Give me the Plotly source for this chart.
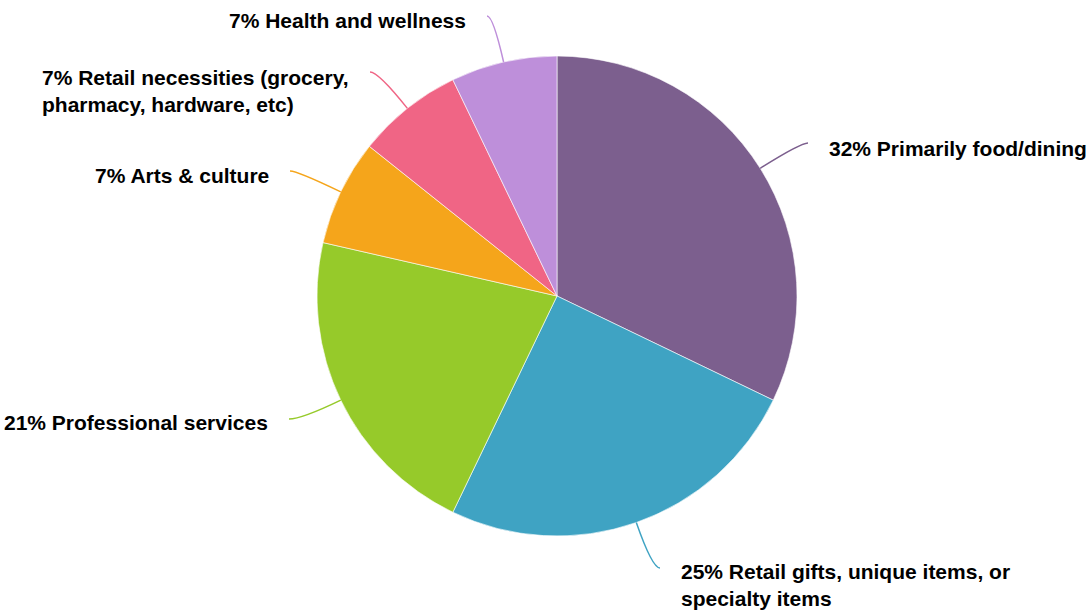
import math
import plotly.graph_objects as go

categorias = ['Primarily food/dining',
              'Retail gifts, unique items, or<br>specialty items',
              'Professional services',
              'Arts & culture',
              'Retail necessities (grocery,<br>pharmacy, hardware, etc)',
              'Health and wellness']
respostas = [9, 7, 6, 2, 2, 2]
cores = ['#7c5f8e', '#3fa3c3', '#96ca2a', '#f5a51b', '#f06585', '#be8fda']

# onde termina cada linha-guia (pixels), lado do texto e ajuste vertical
fim_linha = [(808, 143), (660, 568), (289, 419), (290, 171), (370, 72), (487, 16)]
lado = ['left', 'left', 'right', 'right', 'right', 'right']
ajuste_y = [-5, -17, -3, -4, -19, -4]

W, H = 1088, 612
cx, cy, raio = 557, 296, 240

fig = go.Figure()
fig.add_trace(go.Pie(
    labels=categorias, values=respostas, sort=False, direction='clockwise',
    marker=dict(colors=cores, line=dict(color='white', width=0.6)),
    textinfo='none', hoverinfo='label+percent', showlegend=False,
    domain=dict(x=[(cx - raio) / W, (cx + raio) / W],
                y=[(H - cy - raio) / H, (H - cy + raio) / H])))

total = sum(respostas)
acum = 0
for nome, v, cor, (ex, ey), sd, dy_txt in zip(categorias, respostas, cores, fim_linha, lado, ajuste_y):
    meio = (acum + v / 2) / total * 2 * math.pi
    acum += v
    dx, dy = math.sin(meio), -math.cos(meio)
    x0, y0 = cx + raio * dx, cy + raio * dy
    t = (ey - y0) / dy
    qx, qy = x0 + t * dx, ey
    fig.add_shape(type='path', xref='x', yref='y',
                  path=f'M {x0:.1f},{y0:.1f} Q {qx:.1f},{qy:.1f} {ex},{ey}',
                  line=dict(color=cor, width=1.5))
    pct = f'{round(v / total * 100)}% {nome}'
    fig.add_annotation(x=ex + (19 if sd == 'left' else -19), y=ey, text=pct,
                       xanchor=sd, yanchor='middle', yshift=dy_txt,
                       align='left', showarrow=False)

fig.update_xaxes(range=[0, W], visible=False, fixedrange=True)
fig.update_yaxes(range=[H, 0], visible=False, fixedrange=True)
fig.update_layout(width=W, height=H, margin=dict(l=0, r=0, t=0, b=0),
                  paper_bgcolor='white', plot_bgcolor='white',
                  font=dict(family='Liberation Sans', size=21, color='#000'))
fig.update_annotations(font=dict(family='Liberation Sans', size=21, color='#000', weight='bold'))

fig.write_html('out.html', config={'displayModeBar': False},
               post_script="document.body.style.margin='0';")
